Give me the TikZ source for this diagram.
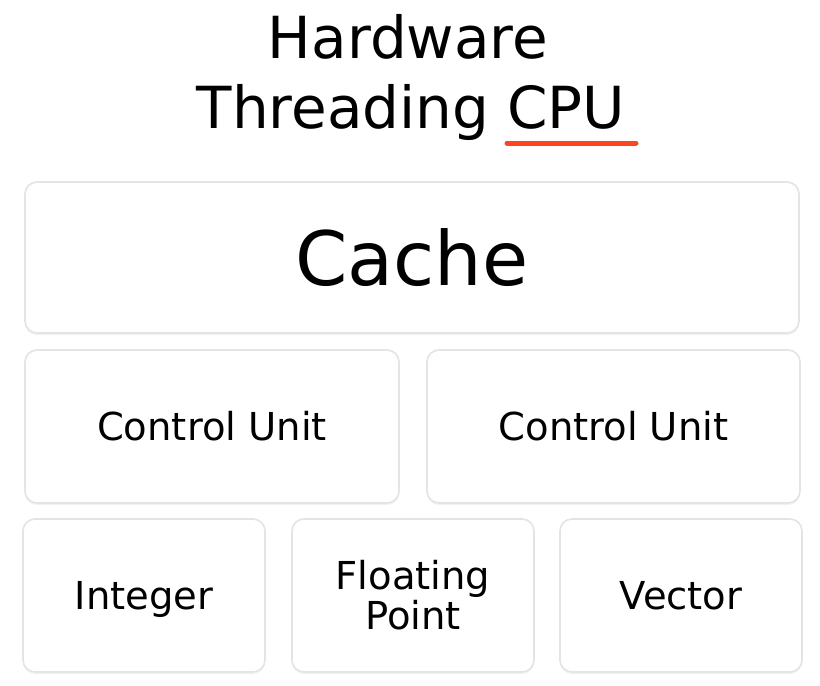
\documentclass[tikz,border=0pt]{standalone}
\usepackage{fontspec}
\setmainfont{DejaVu Sans}
\usetikzlibrary{shadows}
\definecolor{boxline}{HTML}{E4E4E4}
\definecolor{ulred}{HTML}{FF4422}
\begin{document}
\begin{tikzpicture}[x=1pt,y=-1pt,
  box/.style={draw=boxline, line width=1.6pt, fill=white, rounded corners=12pt,
    inner sep=0pt, align=center,
    drop shadow={opacity=0.10, shadow xshift=0pt, shadow yshift=-2pt}},
  small/.style={font=\fontsize{38.5}{40}\selectfont},
  title/.style={font=\fontsize{58}{70}\selectfont, inner sep=0pt, anchor=base}]
\useasboundingbox[fill=white] (0,0) rectangle (820,686);
\node[title] (t1) at (408,58) {Hardware};
\node[title] (t2) at (411,128) {Threading CPU};
\coordinate (u1) at (507,143);
\coordinate (u2) at (636,143);
\draw[ulred, line width=5pt, line cap=round] (u1) -- (u2);
\node[box, minimum width=774pt, minimum height=151pt, font=\fontsize{75}{80}\selectfont] (cache) at (412,257.5) {Cache};
\node[box, small, minimum width=374pt, minimum height=153pt] (cu1) at (212,426.5) {Control Unit};
\node[box, small, minimum width=373pt, minimum height=153pt] (cu2) at (613.5,426.5) {Control Unit};
\node[box, small, minimum width=242pt, minimum height=153pt, text depth=0pt] (int) at (144,595.5) {Integer};
\node[box, small, minimum width=242pt, minimum height=153pt] (fp) at (413,595.5) {Floating\\Point};
\node[box, small, minimum width=242pt, minimum height=153pt] (vec) at (681,595.5) {Vector};
\end{tikzpicture}
\end{document}
